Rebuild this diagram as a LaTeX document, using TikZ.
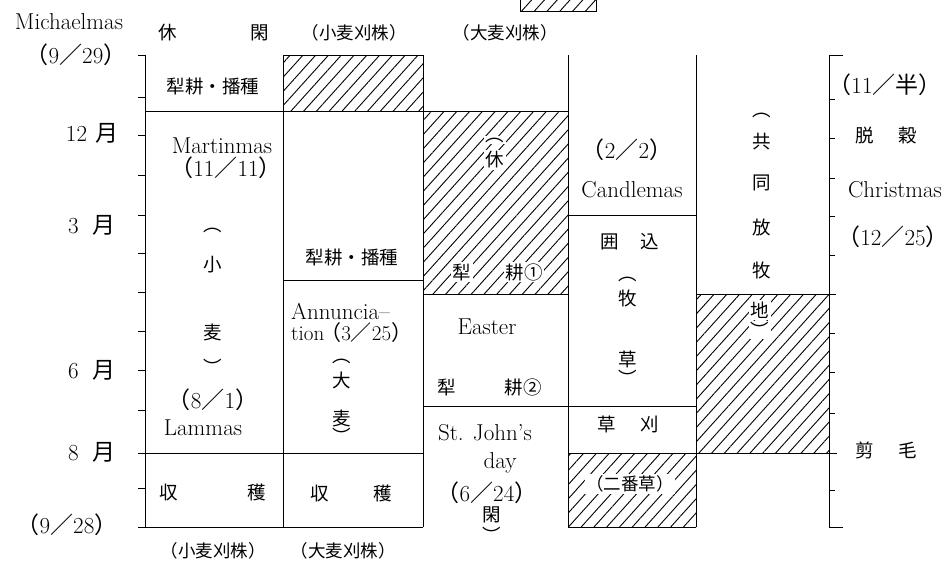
\documentclass[tikz,border=0pt]{standalone}
\usepackage{fontspec}
\newfontfamily\cjk{Noto Sans CJK JP}
\usetikzlibrary{patterns.meta}
\newcommand\jLP{{\cjk （}}
\newcommand\jRP{{\cjk ）}}
\newcommand\jSL{{\cjk ／}}
\tikzset{
  ln/.style={line width=1pt},
  hatch/.style={pattern={Lines[angle=48,distance=9.5pt,line width=0.9pt]}},
  jp/.style={font=\cjk\fontsize{18.5}{18.5}\selectfont, inner sep=1pt},
  jps/.style={font=\cjk\fontsize{17.5}{17.5}\selectfont, inner sep=1pt},
  en/.style={font=\fontsize{23}{23}\selectfont, inner sep=1pt},
  ens/.style={font=\fontsize{21}{21}\selectfont, inner sep=1pt},
  wb/.style={fill=white, inner sep=1.5pt},
}
\begin{document}
\begin{tikzpicture}[x=1pt,y=-1pt]
\useasboundingbox (0,0) rectangle (950,562);
% hatched areas
\fill[hatch] (283,55) rectangle (423,111);
\fill[hatch] (423,111) rectangle (568,294);
\fill[hatch] (696,294) rectangle (829,453);
\fill[hatch] (568,453) rectangle (696,527);
\draw[ln,hatch] (520,-4) rectangle (596,11);
% vertical lines
\draw[ln] (145,55) -- (145,527);
\draw[ln] (283,55) -- (283,527);
\draw[ln] (423,55) -- (423,527);
\draw[ln] (568,55) -- (568,527);
\draw[ln] (696,55) -- (696,527);
\draw[ln] (829,55) -- (829,527);
% horizontal lines
\draw[ln] (283,55) -- (423,55);
\draw[ln] (145,111) -- (568,111);
\draw[ln] (568,215) -- (696,215);
\draw[ln] (283,280) -- (423,280);
\draw[ln] (423,294) -- (568,294);
\draw[ln] (696,294) -- (836,294);
\draw[ln] (423,406) -- (696,406);
\draw[ln] (138,453) -- (423,453);
\draw[ln] (568,453) -- (837,453);
\draw[ln] (138,527) -- (423,527);
\draw[ln] (568,527) -- (696,527);
% axis ticks
\foreach \y in {55,97,135,175,215,253,292,331,370,410,488}
  \draw[ln] (138,\y) -- (145,\y);
\foreach \y in {99,138,178,216,255,333,372,413,490}
  \draw[ln] (829,\y) -- (835,\y);
\draw[ln] (829,55) -- (843,55);
\draw[ln] (829,527) -- (843,527);
% left labels
\node[en] (mich) at (69,22) {Michaelmas};
\node[en] (d929) at (76,55) {\jLP 9\jSL 29\jRP};
\node[en] (m12) at (92,133) {12\hspace{8pt}{\cjk 月}};
\node[en] (m3) at (92,225) {3\hspace{14pt}{\cjk 月}};
\node[en] (m6) at (92,370) {6\hspace{14pt}{\cjk 月}};
\node[en] (m8) at (92,452) {8\hspace{14pt}{\cjk 月}};
\node[en] (d928) at (67,525) {\jLP 9\jSL 28\jRP};
% top / bottom labels
\node[jp] (kyu) at (168,33) {休};
\node[jp] (kan) at (260,33) {閑};
\node[jps] (top2) at (354,33) {（小麦刈株）};
\node[jps] (top3) at (505,33) {（大麦刈株）};
\node[jps] (bot1) at (213,551) {（小麦刈株）};
\node[jps] (bot2) at (343,551) {（大麦刈株）};
% column 1
\node[jp] (c1a) at (213,87) {犁耕・播種};
\node[en] (c1b) at (222,146) {Martinmas};
\node[en] (c1c) at (226,168) {\jLP 11\jSL 11\jRP};
\node[jp] (c1p1) at (213,230) {︵};
\node[jp] (c1v1) at (213,265) {小};
\node[jp] (c1v2) at (213,332) {麦};
\node[jp] (c1p2) at (213,367) {︶};
\node[en] (c1d) at (213,400) {\jLP 8\jSL 1\jRP};
\node[en] (c1e) at (203,428) {Lammas};
\node[jp] (c1f) at (169,492) {収};
\node[jp] (c1g) at (257,492) {穫};
% column 2
\node[jp] (c2a) at (352,258) {犁耕・播種};
\node[en, anchor=west] (c2b) at (290,311) {Annuncia--};
\node[ens, anchor=west] (c2c) at (290,333) {tion\hspace{-4pt}\jLP 3\jSL 25\jRP};
\node[jp] (c2p1) at (342,361) {︵};
\node[jp] (c2v1) at (342,380) {大};
\node[jp] (c2v2) at (342,418) {麦};
\node[jp] (c2p2) at (342,436) {︶};
\node[jp] (c2f) at (320,493) {収};
\node[jp] (c2g) at (383,493) {穫};
% column 3
\node[jp,wb] (c3p1) at (495,140) {︵};
\node[jp,wb] (c3v1) at (495,160) {休};
\node[jp,wb] (c3a) at (462,272) {犁};
\node[jp,wb] (c3b) at (524,272) {耕①};
\node[en] (c3c) at (487,327) {Easter};
\node[jp] (c3d) at (447,387) {犁};
\node[jp] (c3e) at (523,387) {耕②};
\node[en] (c3f) at (485,433) {St. John’s};
\node[en] (c3g) at (500,463) {day};
\node[en] (c3h) at (487,493) {\jLP 6\jSL 24\jRP};
\node[jp] (c3v2) at (492,515) {閑};
\node[jp] (c3p2) at (492,535) {︶};
% column 4
\node[en] (c4a) at (627,150) {\jLP 2\jSL 2\jRP};
\node[en] (c4b) at (632,190) {Candlemas};
\node[jp] (c4c) at (610,242) {囲};
\node[jp] (c4d) at (650,242) {込};
\node[jp] (c4p1) at (628,279) {︵};
\node[jp] (c4v1) at (628,298) {牧};
\node[jp] (c4v2) at (628,359) {草};
\node[jp] (c4p2) at (628,378) {︶};
\node[jp] (c4e) at (607,424) {草};
\node[jp] (c4f) at (650,424) {刈};
\node[jps,wb] (c4g) at (630,484) {（二番草）};
% column 5
\node[jp] (c5p1) at (762,115) {︵};
\node[jp] (c5v1) at (762,142) {共};
\node[jp] (c5v2) at (762,183) {同};
\node[jp] (c5v3) at (762,227) {放};
\node[jp] (c5v4) at (762,270) {牧};
\node[jp,wb] (c5v5) at (760,310) {地};
\node[jp,wb] (c5p2) at (760,330) {︶};
% right labels
\node[en] (r1) at (885,85) {\jLP 11\jSL{\cjk 半}\jRP};
\node[jp] (r2) at (865,135) {脱};
\node[jp] (r3) at (908,135) {穀};
\node[en] (r4) at (895,190) {Christmas};
\node[en] (r5) at (893,237) {\jLP 12\jSL 25\jRP};
\node[jp] (r6) at (865,450) {剪};
\node[jp] (r7) at (908,450) {毛};
\end{tikzpicture}
\end{document}
